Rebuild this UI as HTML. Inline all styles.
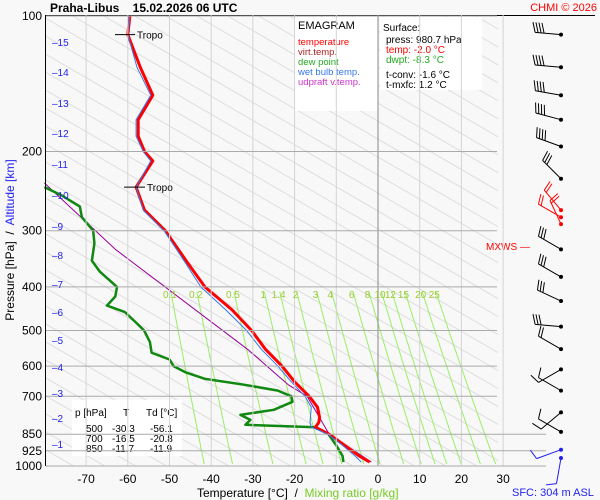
<!DOCTYPE html>
<html><head><meta charset="utf-8"><style>
html,body{margin:0;padding:0;background:#f8f8f8;}
svg{display:block;font-family:"Liberation Sans",sans-serif;}
text{white-space:pre;}
</style></head><body>
<svg id="chart" width="600" height="500" viewBox="0 0 600 500" xmlns="http://www.w3.org/2000/svg" xml:space="preserve">
<rect x="0" y="0" width="600" height="500" fill="#f8f8f8"/>
<defs><clipPath id="pc"><rect x="46" y="15" width="452" height="451"/></clipPath></defs>
<g id="grid" clip-path="url(#pc)"></g>
<g id="marks"></g>
<text x="50" y="12" font-size="12" font-weight="bold">Praha-Libus    15.02.2026 06 UTC</text>
<text x="597" y="11" font-size="11" fill="#ff0000" text-anchor="end">CHMI © 2026</text>
<line x1="45" y1="15.5" x2="595" y2="15.5" stroke="#000"/>
<line x1="45.5" y1="15" x2="45.5" y2="466" stroke="#000"/>
<rect x="295" y="17" width="83" height="94" fill="#fff"/>
<g font-size="9.5">
<text x="298" y="29" font-size="11">EMAGRAM</text>
<text x="298" y="45" fill="#ff0000">temperature</text>
<text x="298" y="55" fill="#aa2222">virt.temp.</text>
<text x="298" y="65" fill="#22aa22">dew point</text>
<text x="298" y="75" fill="#3377ee">wet bulb temp.</text>
<text x="298" y="85" fill="#cc33cc">udpraft v.temp.</text>
</g>
<rect x="380" y="17" width="102" height="73" fill="#fff"/>
<g font-size="10">
<text x="383" y="31">Surface:</text>
<text x="386" y="43">press: 980.7 hPa</text>
<text x="386" y="53" fill="#ff0000">temp: -2.0 °C</text>
<text x="386" y="63" fill="#22aa22">dwpt: -8.3 °C</text>
<text x="386" y="78">t-conv: -1.6 °C</text>
<text x="386" y="88">t-mxfc: 1.2 °C</text>
</g>
<rect x="72" y="400" width="110" height="56" fill="#fff"/>
<g font-size="10">
<text x="75" y="416">p [hPa]</text>
<text x="123" y="416">T</text>
<text x="146" y="416">Td [°C]</text>
<text x="86" y="432">500</text>
<text x="112" y="432">-30.3</text>
<text x="150" y="432">-56.1</text>
<text x="86" y="442">700</text>
<text x="112" y="442">-16.5</text>
<text x="150" y="442">-20.8</text>
<text x="86" y="452">850</text>
<text x="112" y="452">-11.7</text>
<text x="150" y="452">-11.9</text>
</g>
<text transform="translate(14,240) rotate(-90)" font-size="12" text-anchor="middle"><tspan fill="#000">Pressure [hPa]  /  </tspan><tspan fill="#2222ee">Altitude [km]</tspan></text>
<text x="197" y="497" font-size="12">Temperature [°C]  /  <tspan fill="#77cc22">Mixing ratio [g/kg]</tspan></text>
<text x="512" y="496" font-size="11" fill="#2222ee">SFC: 304 m ASL</text>
<text x="486" y="250" font-size="10" fill="#ff0000">MXWS —</text>
</svg>
<script>
const pLevels=[100,200,300,400,500,600,700,850,925,1000];
const tTicks=[-70,-60,-50,-40,-30,-20,-10,0,10,20,30];
const kmTicks=[1,2,3,4,5,6,7,8,9,10,11,12,13,14,15];
const kmY=[444,418,393,367,340,312,284,255,226,195,164,133,103,72,42];
const mixRatios=[0.1,0.2,0.5,1,1.4,2,3,4,6,8,10,12,15,20,25];
const tempP=[100,110,130,150,170,185,200,210,240,270,300,350,400,450,500,550,600,650,700,740,780,800,820,850,900,950,980];
const tempT=[-59.5,-60,-57,-54,-57.5,-57.5,-56,-54,-58,-56,-51,-46,-41.5,-35,-30.3,-27,-23,-20,-16.5,-14.5,-14,-14.2,-15,-11.7,-8,-4.5,-2];
const wetT=[-59.5,-60,-57.8,-54.5,-58,-58,-56.3,-54.5,-58,-56.3,-51.3,-46.5,-42.5,-36.5,-31.5,-28,-24,-20.8,-17.5,-16,-16.2,-16.3,-16,-12,-8.5,-5.5,-4];
const dewP=[240,250,265,280,300,320,350,370,400,420,440,455,480,500,530,560,580,600,620,640,660,680,700,720,750,770,790,810,820,850,900,950,980];
const dewT=[-80,-76,-71.5,-71,-68.3,-68,-68.6,-66.7,-62.6,-63,-65,-60.7,-58,-56.1,-54.7,-54.3,-50,-49,-46,-41.5,-32,-24,-20.8,-20.5,-25,-33,-30.6,-31.8,-15,-11.9,-10,-8.5,-8.3];
const parcelP=[235,330,553,660,700,850,980];
const parcelT=[-80,-63,-31,-21.5,-17,-11.7,-1.6];
const windP=[110,130,150,170,195,230,270,280,290,330,380,430,490,550,610,680,760,840,920,960];
const windDir=[275,275,280,285,290,315,320,300,335,300,300,295,275,300,240,300,230,300,250,190];
const windSpd=[35,35,35,35,35,30,15,15,15,25,25,25,25,20,10,10,5,5,5,5];

const NS='http://www.w3.org/2000/svg';
const X=t=>378+4.17*t;
const Y=p=>16+450*Math.log10(p/100);
function el(tag,attrs,parent){const e=document.createElementNS(NS,tag);for(const k in attrs)e.setAttribute(k,attrs[k]);parent.appendChild(e);return e;}
const grid=document.getElementById('grid'),marks=document.getElementById('marks'),svg=document.getElementById('chart');

for(let k=-30;k<20;k++){const x0=40+k*31;
const a=el('line',{x1:x0,y1:15,x2:x0+820,y2:15+0.58*820,stroke:'#dedede','stroke-width':1},grid);

}
tTicks.forEach(t=>{const l=el('line',{x1:X(t),x2:X(t),y1:15,y2:466,stroke:t===0?'#888':'#d4d4d4','stroke-width':1},svg);


const tx=el('text',{x:X(t),y:483,'font-size':12,'text-anchor':'middle'},svg);tx.textContent=t;

});
pLevels.forEach(p=>{const l=el('line',{x1:46,x2:p>=850?546:497,y1:Y(p),y2:Y(p),stroke:'#aaa','stroke-width':1},svg);


const tx=el('text',{x:42,y:Y(p)+4,'font-size':12,'text-anchor':'end'},svg);tx.textContent=p;

});
function tdOf(w,p){const e=w*p/(622+w);const l=Math.log(e/6.112);return 243.5*l/(17.67-l);}
mixRatios.forEach(w=>{let pts=[];for(let p=410;p<=1000;p+=20)pts.push(X(tdOf(w,p)).toFixed(1)+','+Y(p).toFixed(1));
const l=el('polyline',{points:pts.join(' '),fill:'none',stroke:'#99ee66','stroke-width':1},grid);


const tx=el('text',{x:X(tdOf(w,400)),y:298,'font-size':10,'text-anchor':'middle',fill:'#99cc33'},svg);tx.textContent=w;

});
kmTicks.forEach((k,i)=>{const tx=el('text',{x:52,y:kmY[i]+4,'font-size':10,fill:'#2222ee'},svg);tx.textContent='–'+k;

});
function line(P,T,color,w,name){const pts=P.map((p,i)=>X(T[i]).toFixed(1)+','+Y(p).toFixed(1)).join(' ');
const l=el('polyline',{points:pts,fill:'none',stroke:color,'stroke-width':w,'stroke-linejoin':'round'},marks);

}
line(parcelP,parcelT,'#990099',1,'updraft-line');
line(dewP,dewT,'#118811',2.5,'dew-point-line');
line(tempP,tempT,'#ff0000',3,'temperature-line');
line(tempP,wetT,'#3377ee',1,'wet-bulb-line');
[[110,115,135],[240,124,145]].forEach(a=>{const y=Y(a[0]);
const l=el('line',{x1:a[1],x2:a[2],y1:y,y2:y,stroke:'#000'},svg);


const tx=el('text',{x:a[2]+2,y:y+4,'font-size':10},svg);tx.textContent='Tropo';

});
windP.forEach((p,i)=>{const y=Y(p),x=561,d=windDir[i]*Math.PI/180,L=26;
const ex=x+L*Math.sin(d),ey=y-L*Math.cos(d);
const g=el('g',{},svg);


const col=(p>=920)?'#2222ee':(p>=270&&p<=290?'#ff0000':'#000');
el('line',{x1:x,y1:y,x2:ex,y2:ey,stroke:col,'stroke-width':1},g);
el('circle',{cx:x,cy:y,r:2,fill:col},g);
const n=Math.round(windSpd[i]/10);const ux=(x-ex)/L,uy=(y-ey)/L;
for(let k=0;k<n;k++){const bx=ex+ux*k*3,by=ey+uy*k*3;
el('line',{x1:bx,y1:by,x2:bx+uy*10-ux*3,y2:by-ux*10-uy*3,stroke:col},g);}});
</script>
</body></html>
